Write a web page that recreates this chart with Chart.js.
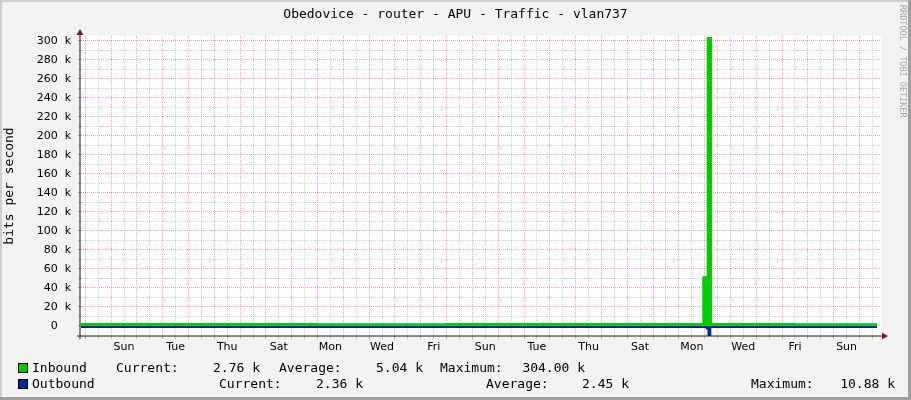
<!DOCTYPE html>
<html>
<head>
<meta charset="utf-8">
<title>Obedovice - router - APU - Traffic - vlan737</title>
<script src="https://cdn.jsdelivr.net/npm/chart.js@4.4.1/dist/chart.umd.min.js"></script>
<style>
  body { margin: 0; background: #f2f2f2; }
  #wrap { position: relative; width: 911px; height: 400px; }
  #wrap canvas { position: absolute; left: 0; top: 0; }
  .lg { position: absolute; font: 13px 'DejaVu Sans Mono', monospace; line-height: 14px; color: #000; white-space: pre; }
  .box { position: absolute; width: 8px; height: 8px; border: 1px solid #000; }
  #mark { position: absolute; left: 898px; top: 5px; writing-mode: vertical-rl; font: 8.5px 'DejaVu Sans Mono', monospace; color: #a8a8a8; white-space: pre; }
</style>
</head>
<body>
<div id="wrap">
  <canvas id="myChart" width="911" height="400"></canvas>
  <div id="mark">RRDTOOL / TOBI OETIKER</div>
</div>
<script>
// hours since the first Saturday midnight shown
const inHours = [-4, 96, 216, 336, 456, 573.8, 577.9, 582.8, 660, 736.3]
const inBits = [2760, 2800, 2740, 2780, 2760, 52000, 304000, 2760, 2750, 2760]

const outHours = [-4, 120, 300, 480, 577, 578.6, 582.2, 660, 736.3]
const outBits = [2400, 2450, 2420, 2440, 4000, 10880, 2400, 2380, 2360]

const dayTicks = ['Sun', 'Tue', 'Thu', 'Sat', 'Mon', 'Wed', 'Fri', 'Sun', 'Tue', 'Thu', 'Sat', 'Mon', 'Wed', 'Fri', 'Sun']
const firstLabelHour = 36

const legendNames = ['Inbound', 'Outbound']
const legendColors = ['#00cc00', '#002a97']
const currentVals = ['2.76 k', '2.36 k']
const averageVals = ['5.04 k', '2.45 k']
const maximumVals = ['304.00 k', '10.88 k']

const GRID = 'rgba(150,150,150,0.5)'
const MGRID = 'rgba(222,79,79,0.55)'

const gridHours = []
for (let h = 0; h <= 732; h += 12) gridHours.push(h)
const gridBits = []
for (let v = 0; v <= 300000; v += 10000) gridBits.push(v)

const rrdFrame = {
    id: 'rrdFrame',
    beforeDraw(chart) {
        const {ctx, chartArea: a, width, height} = chart
        ctx.save()
        ctx.fillStyle = '#f2f2f2'
        ctx.fillRect(0, 0, width, height)
        ctx.fillStyle = '#cfcfcf'
        ctx.fillRect(0, 0, width, 2)
        ctx.fillRect(0, 0, 2, height)
        ctx.fillStyle = '#9e9e9e'
        ctx.fillRect(0, height - 3, width, 3)
        ctx.fillRect(width - 3, 0, 3, height)
        ctx.fillStyle = '#fff'
        ctx.fillRect(a.left, a.top, a.right - a.left, a.bottom - a.top)
        ctx.restore()
    },
    afterDraw(chart) {
        const {ctx, chartArea: a} = chart
        const ax = a.left - 1, ay = a.bottom
        ctx.save()
        ctx.strokeStyle = '#1f1f1f'
        ctx.lineWidth = 1
        ctx.beginPath()
        ctx.moveTo(ax, ay + 3)
        ctx.lineTo(ax, a.top - 3)
        ctx.moveTo(ax - 3, ay)
        ctx.lineTo(a.right + 3, ay)
        ctx.stroke()
        ctx.fillStyle = '#801f1f'
        ctx.beginPath()
        ctx.moveTo(ax, a.top - 7)
        ctx.lineTo(ax - 3.5, a.top - 1)
        ctx.lineTo(ax + 3.5, a.top - 1)
        ctx.fill()
        ctx.beginPath()
        ctx.moveTo(a.right + 7, ay)
        ctx.lineTo(a.right + 1, ay - 3.5)
        ctx.lineTo(a.right + 1, ay + 3.5)
        ctx.fill()
        ctx.restore()
    }
}

Chart.defaults.font.family = "'DejaVu Sans', sans-serif"

const myChart = new Chart(document.getElementById('myChart'), {
    type: 'line',
    data: {
        datasets: [{
            label: legendNames[0],
            data: inHours.map((h, i) => ({x: h, y: inBits[i]})),
            stepped: 'before',
            fill: 'origin',
            backgroundColor: legendColors[0],
            borderColor: 'rgba(0,0,0,0)',
            borderWidth: 0,
            pointRadius: 0
        }, {
            label: legendNames[1],
            data: outHours.map((h, i) => ({x: h, y: -outBits[i]})),
            stepped: 'before',
            fill: 'origin',
            backgroundColor: legendColors[1],
            borderColor: 'rgba(0,0,0,0)',
            borderWidth: 0,
            pointRadius: 0
        }]
    },
    options: {
        responsive: false,
        animation: false,
        devicePixelRatio: 1,
        layout: {padding: 0},
        plugins: {
            legend: {display: false},
            tooltip: {enabled: false},
            title: {
                display: true,
                text: 'Obedovice - router - APU - Traffic - vlan737',
                color: '#000',
                font: {family: "'DejaVu Sans Mono', monospace", size: 13, weight: 'normal', lineHeight: 1.2},
                padding: {top: 7, bottom: 13.4}
            }
        },
        scales: {
            x: {
                type: 'linear',
                min: -4,
                max: 740,
                afterBuildTicks: s => { s.ticks = gridHours.map(v => ({value: v})) },
                afterFit: s => { s.height = 64 },
                ticks: {
                    autoSkip: false,
                    maxRotation: 0,
                    padding: 2,
                    color: '#000',
                    font: {size: 11},
                    callback: v => {
                        const i = (v - firstLabelHour) / 48
                        return Number.isInteger(i) && i >= 0 && i < dayTicks.length ? dayTicks[i] : ''
                    }
                },
                grid: {
                    color: c => (c.tick && c.tick.value % 24 === 0) ? MGRID : GRID,
                    lineWidth: 1,
                    tickLength: 3
                },
                border: {display: false, dash: [1, 1]}
            },
            y: {
                min: -10800,
                max: 305000,
                afterBuildTicks: s => { s.ticks = gridBits.map(v => ({value: v})) },
                afterFit: s => { s.width = 81 },
                title: {
                    display: true,
                    text: 'bits per second',
                    color: '#000',
                    font: {family: "'DejaVu Sans Mono', monospace", size: 13, lineHeight: 1.2},
                    padding: {top: 2, bottom: 0}
                },
                ticks: {
                    autoSkip: false,
                    padding: 7,
                    color: '#000',
                    font: {size: 11},
                    callback: v => {
                        if (v % 20000 !== 0) return ''
                        if (v === 0) return '0\u2003\u2009'
                        return (v / 1000) + '  k'
                    }
                },
                grid: {
                    color: c => (c.tick && c.tick.value % 20000 === 0) ? MGRID : GRID,
                    lineWidth: 1,
                    tickLength: 3
                },
                border: {display: false, dash: [1, 1]}
            },
            // empty right margin, keeps the title centred on the whole image
            yr: {
                type: 'linear',
                axis: 'y',
                position: 'right',
                display: true,
                afterFit: s => { s.width = 30 },
                ticks: {display: false},
                grid: {display: false},
                border: {display: false}
            }
        }
    },
    plugins: [rrdFrame]
})

// legend rows, rrdtool style
const wrap = document.getElementById('wrap')
const addText = (txt, top, left, right) => {
    const el = document.createElement('div')
    el.className = 'lg'
    el.textContent = txt
    el.style.top = top + 'px'
    if (right !== undefined) el.style.right = (911 - right) + 'px'
    else el.style.left = left + 'px'
    wrap.appendChild(el)
}
const rowTops = [361, 377]
const colLeft = [[116, 279, 440], [219, 486, 751]]
const colRight = [[260, 423, 585], [363, 629, 895]]
legendNames.forEach((name, r) => {
    const box = document.createElement('div')
    box.className = 'box'
    box.style.left = '18px'
    box.style.top = (rowTops[r] + 2) + 'px'
    box.style.background = legendColors[r]
    wrap.appendChild(box)
    addText(name, rowTops[r], 32)
    addText('Current:', rowTops[r], colLeft[r][0])
    addText(currentVals[r], rowTops[r], 0, colRight[r][0])
    addText('Average:', rowTops[r], colLeft[r][1])
    addText(averageVals[r], rowTops[r], 0, colRight[r][1])
    addText('Maximum:', rowTops[r], colLeft[r][2])
    addText(maximumVals[r], rowTops[r], 0, colRight[r][2])
})
</script>
</body>
</html>
